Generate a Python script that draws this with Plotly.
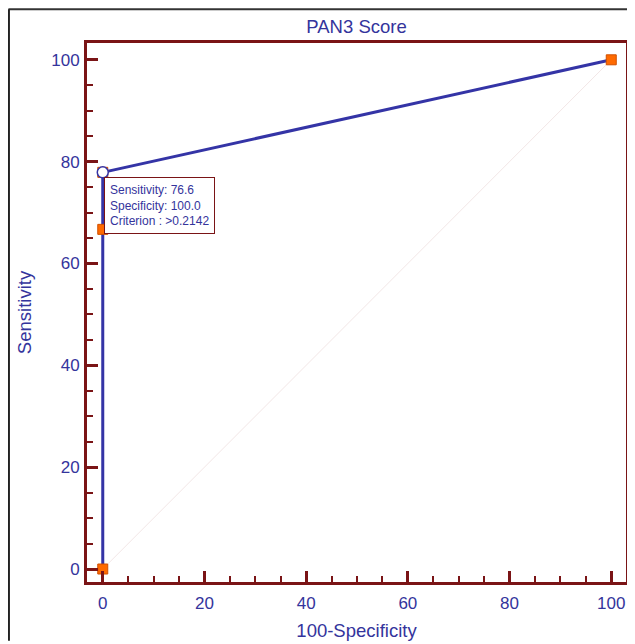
import plotly.graph_objects as go

# ROC curve data (100-Specificity, Sensitivity)
roc_x = [0, 0, 0, 100]
roc_y = [0, 66.7, 77.9, 100]
opt_x = [0]
opt_y = [77.9]
diag_x = [0, 100]
diag_y = [0, 100]
tick_vals = [0, 20, 40, 60, 80, 100]
title_text = "PAN3 Score"
x_title = "100-Specificity"
y_title = "Sensitivity"
info_lines = ["Sensitivity: 76.6", "Specificity: 100.0", "Criterion : >0.2142"]

AXIS = "#7a1416"
BLUE = "#3434a6"
TXT = "#34349c"
ORANGE = "#ff6a00"
FONT = "Arial, Liberation Sans"

W, H = 627, 636
L, R, T, B = 79, 6, 35, 59
PW, PH = W - L - R, H - T - B

fig = go.Figure()
fig.add_trace(go.Scatter(x=diag_x, y=diag_y, mode="lines",
                         line=dict(color="#f2e6e6", width=1), hoverinfo="skip"))
fig.add_trace(go.Scatter(x=roc_x, y=roc_y, mode="lines+markers",
                         line=dict(color=BLUE, width=3),
                         marker=dict(symbol="square", size=10, color=ORANGE,
                                     line=dict(color="#d05000", width=1))))
fig.add_trace(go.Scatter(x=opt_x, y=opt_y, mode="markers",
                         marker=dict(symbol="circle", size=11, color="white",
                                     line=dict(color=BLUE, width=1.5))))

fig.add_annotation(x=0.15, y=76.9, xref="x", yref="y", xanchor="left", yanchor="top",
                   text="<br>".join(info_lines), showarrow=False, align="left",
                   font=dict(family=FONT, size=12, color=TXT),
                   bgcolor="white", bordercolor=AXIS, borderwidth=1, borderpad=5)

axis_common = dict(
    showline=True, linecolor=AXIS, linewidth=3, mirror=True,
    ticks="inside", ticklen=11, tickwidth=2.5, tickcolor=AXIS,
    tickvals=tick_vals, showgrid=False, zeroline=False,
    tickfont=dict(family=FONT, size=17, color=TXT),
    minor=dict(dtick=5, tick0=0, ticks="inside", ticklen=6, tickwidth=2, tickcolor=AXIS, showgrid=False),
)

fig.update_layout(
    width=W, height=H,
    margin=dict(l=L, r=R, t=T, b=B),
    paper_bgcolor="white", plot_bgcolor="white",
    showlegend=False,
    title=dict(text=title_text, x=0.5, xref="paper", y=1 - 19 / H, yref="container",
               xanchor="center", yanchor="middle",
               font=dict(family=FONT, size=18.5, color=TXT)),
    xaxis=dict(range=[-3.1, 102.9], ticklabelstandoff=4, **axis_common,
               title=dict(text=x_title, standoff=12,
                          font=dict(family=FONT, size=18.5, color=TXT))),
    yaxis=dict(range=[-2.55, 103.3], ticklabelstandoff=1, **axis_common,
               title=dict(text=y_title, standoff=15,
                          font=dict(family=FONT, size=18.5, color=TXT))),
    shapes=[
        dict(type="line", xref="paper", yref="paper", x0=-L / PW, x1=1 + R / PW,
             y0=1 + (T - 1) / PH, y1=1 + (T - 1) / PH, line=dict(color="#333333", width=2)),
        dict(type="line", xref="paper", yref="paper", x0=-(L - 0.5) / PW, x1=-(L - 0.5) / PW,
             y0=1 + (T - 1) / PH, y1=-B / PH, line=dict(color="#222222", width=2)),
    ],
)

fig.write_html("out.html")
